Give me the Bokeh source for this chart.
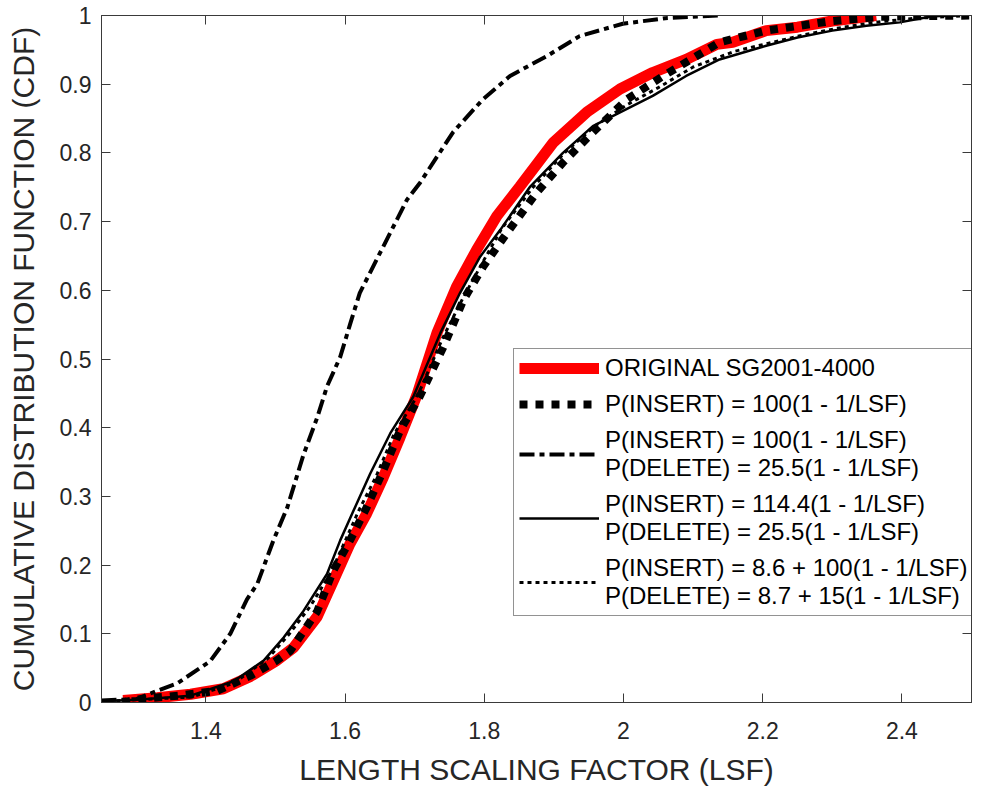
from bokeh.plotting import figure
from bokeh.models import Legend, LegendItem, LinearAxis, FixedTicker, Range1d
from bokeh.embed import file_html
from bokeh.resources import INLINE

# ---- data ----
orig_x = [1.281, 1.33, 1.378, 1.425, 1.464, 1.50, 1.526, 1.56, 1.583, 1.607, 1.631, 1.655, 1.679,
          1.703, 1.732, 1.76, 1.789, 1.818, 1.851, 1.899, 1.947, 1.995, 2.042, 2.09, 2.134, 2.157,
          2.205, 2.25, 2.30, 2.363]
orig_y = [0.003, 0.007, 0.012, 0.02, 0.038, 0.06, 0.08, 0.125, 0.177, 0.231, 0.275, 0.328, 0.386,
          0.447, 0.538, 0.605, 0.659, 0.708, 0.751, 0.815, 0.859, 0.893, 0.917, 0.936, 0.958, 0.961,
          0.978, 0.983, 0.992, 1.0]

ins_x = [1.28, 1.306, 1.36, 1.416, 1.464, 1.50, 1.521, 1.56, 1.583, 1.607, 1.631, 1.655, 1.679,
         1.707, 1.741, 1.77, 1.798, 1.833, 1.875, 1.913, 1.956, 2.005, 2.057, 2.105, 2.138, 2.205,
         2.30, 2.368, 2.43, 2.5]
ins_y = [0.0, 0.005, 0.01, 0.017, 0.039, 0.06, 0.075, 0.133, 0.192, 0.236, 0.284, 0.338, 0.396,
         0.445, 0.517, 0.586, 0.634, 0.684, 0.742, 0.786, 0.83, 0.878, 0.912, 0.941, 0.961, 0.978,
         0.992, 0.998, 0.999, 1.0]

insdel_x = [1.25, 1.30, 1.33, 1.359, 1.406, 1.435, 1.459, 1.474, 1.497, 1.517, 1.54, 1.56, 1.574,
            1.593, 1.607, 1.621, 1.65, 1.689, 1.708, 1.755, 1.798, 1.837, 1.89, 1.937, 1.999, 2.06,
            2.139]
insdel_y = [0.003, 0.005, 0.017, 0.028, 0.06, 0.10, 0.15, 0.173, 0.236, 0.284, 0.36, 0.415, 0.46,
            0.503, 0.55, 0.596, 0.654, 0.732, 0.757, 0.83, 0.878, 0.912, 0.941, 0.97, 0.988, 0.996,
            1.0]

ins114_x = [1.253, 1.30, 1.378, 1.44, 1.483, 1.512, 1.54, 1.574, 1.593, 1.612, 1.636, 1.665, 1.698,
            1.737, 1.765, 1.794, 1.823, 1.866, 1.913, 1.956, 2.005, 2.042, 2.09, 2.138, 2.205, 2.25,
            2.30, 2.349, 2.397, 2.444, 2.483]
ins114_y = [0.002, 0.004, 0.01, 0.031, 0.061, 0.095, 0.133, 0.187, 0.236, 0.279, 0.333, 0.392, 0.445,
            0.538, 0.596, 0.649, 0.688, 0.751, 0.80, 0.839, 0.864, 0.883, 0.912, 0.936, 0.956, 0.968,
            0.978, 0.985, 0.99, 0.999, 1.0]

off_x = [1.26, 1.38, 1.44, 1.49, 1.52, 1.55, 1.58, 1.60, 1.62, 1.645, 1.67, 1.70, 1.71, 1.74, 1.77,
         1.80, 1.825, 1.87, 1.915, 1.96, 2.005, 2.05, 2.10, 2.16, 2.21, 2.26, 2.31, 2.36, 2.42, 2.5]
off_y = [0.002, 0.008, 0.028, 0.065, 0.10, 0.14, 0.19, 0.235, 0.28, 0.33, 0.39, 0.44, 0.46, 0.53,
         0.59, 0.645, 0.69, 0.75, 0.80, 0.84, 0.87, 0.895, 0.925, 0.948, 0.96, 0.972, 0.982, 0.99,
         0.996, 1.0]

x_ticks = [1.4, 1.6, 1.8, 2, 2.2, 2.4]
y_ticks = [0, 0.1, 0.2, 0.3, 0.4, 0.5, 0.6, 0.7, 0.8, 0.9, 1]

labels = [
    "ORIGINAL SG2001-4000",
    "P(INSERT) = 100(1 - 1/LSF)",
    "P(INSERT) = 100(1 - 1/LSF)\nP(DELETE) = 25.5(1 - 1/LSF)",
    "P(INSERT) = 114.4(1 - 1/LSF)\nP(DELETE) = 25.5(1 - 1/LSF)",
    "P(INSERT) = 8.6 + 100(1 - 1/LSF)\nP(DELETE) = 8.7 + 15(1 - 1/LSF)",
]

FONT = "Liberation Sans"
AX = "#3a3a3a"
TXT = "#262626"

p = figure(width=982, height=788, x_range=Range1d(1.25, 2.5), y_range=Range1d(0, 1),
           output_backend="svg", toolbar_location=None,
           min_border_left=101, min_border_right=11, min_border_top=15, min_border_bottom=86)
p.xgrid.visible = False
p.ygrid.visible = False
p.outline_line_color = AX
p.outline_line_width = 1
p.background_fill_color = "white"
p.border_fill_color = "white"

r_orig = p.line(orig_x, orig_y, line_color="#ff0000", line_width=11)
r_ins = p.line(ins_x, ins_y, line_color="black", line_width=8, line_dash="8 8")
r_insdel = p.line(insdel_x, insdel_y, line_color="black", line_width=4, line_dash="15 5 5 5")
r_114 = p.line(ins114_x, ins114_y, line_color="black", line_width=2.5)
r_off = p.line(off_x, off_y, line_color="black", line_width=3, line_dash="4 4")

def style_axis(ax, show_labels):
    ax.axis_line_color = AX
    ax.major_tick_line_color = AX
    ax.major_tick_in = 9
    ax.major_tick_out = 0
    ax.minor_tick_line_color = None
    ax.major_label_text_font = FONT
    ax.axis_label_text_font = FONT
    ax.axis_label_text_color = TXT
    ax.axis_label_text_font_style = "normal"
    if show_labels:
        ax.major_label_text_color = TXT
        ax.major_label_text_font_size = "23px"
        ax.axis_label_text_font_size = "30px"
    else:
        ax.major_label_text_color = None
        ax.major_label_text_font_size = "1px"
        ax.major_label_standoff = 0

xa = p.xaxis[0]
ya = p.yaxis[0]
xa.ticker = FixedTicker(ticks=x_ticks)
ya.ticker = FixedTicker(ticks=y_ticks)
xa.major_label_overrides = {2: "2"}
ya.major_label_overrides = {0: "0", 1: "1"}
style_axis(xa, True)
style_axis(ya, True)
xa.axis_label = "LENGTH SCALING FACTOR (LSF)"
ya.axis_label = "CUMULATIVE DISTRIBUTION FUNCTION (CDF)"
xa.major_label_standoff = 19
xa.axis_label_standoff = 11
ya.major_label_standoff = 10
ya.axis_label_standoff = 17

top = LinearAxis(ticker=FixedTicker(ticks=x_ticks))
right = LinearAxis(ticker=FixedTicker(ticks=y_ticks))
style_axis(top, False)
style_axis(right, False)
p.add_layout(top, "above")
p.add_layout(right, "right")

items = [LegendItem(label=lab, renderers=[r]) for lab, r in
         zip(labels, [r_orig, r_ins, r_insdel, r_114, r_off])]
legend = Legend(items=items, location=(412, 86), margin=0, padding=5, spacing=8,
                glyph_width=80, glyph_height=20, label_standoff=6,
                label_text_font=FONT, label_text_font_size="24px", label_text_color="black",
                border_line_color=TXT, border_line_width=1,
                background_fill_color="white", background_fill_alpha=1)
p.add_layout(legend)

open("out.html", "w").write(file_html(p, INLINE))
